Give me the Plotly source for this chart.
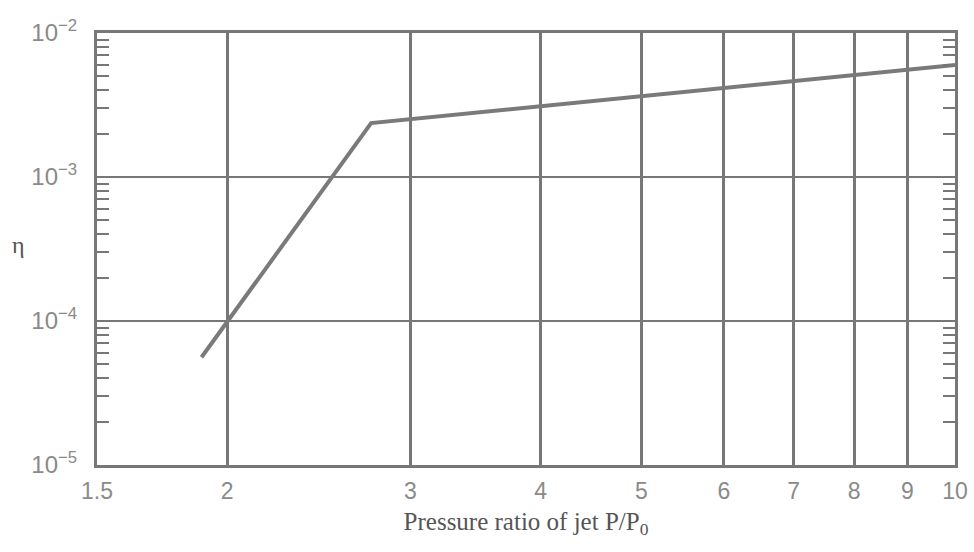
import plotly.graph_objects as go

# data
pressure_ratio = [1.89, 2.75, 10.0]
eta = [5.6e-5, 2.37e-3, 6.0e-3]

x_tick_vals = [1.5, 2, 3, 4, 5, 6, 7, 8, 9, 10]
x_tick_text = ["1.5", "2", "3", "4", "5", "6", "7", "8", "9", "10"]
y_exponents = [-5, -4, -3, -2]
y_tick_vals = [10.0 ** e for e in y_exponents]
y_tick_text = ["10<sup>−%d</sup>" % (-e) for e in y_exponents]
y_minor_vals = [m * 10.0 ** e for e in y_exponents[:-1] for m in range(2, 10)]

fig = go.Figure()
fig.add_trace(go.Scatter(x=pressure_ratio, y=eta, mode="lines",
                         line=dict(color="#7a7a7a", width=4), showlegend=False))

fig.update_layout(
    width=974, height=552,
    margin=dict(l=97, r=19, t=33, b=87),
    paper_bgcolor="white", plot_bgcolor="white",
    font=dict(family="Liberation Sans, Arial, sans-serif", color="#8a8a8a", size=17),
    annotations=[dict(text="η", xref="paper", yref="paper", x=-0.091, y=0.51,
                      xanchor="center", yanchor="middle", showarrow=False,
                      font=dict(family="Liberation Serif, Times New Roman, serif", size=24, color="#555555"))],
)
fig.update_xaxes(
    type="log", range=[0.176091, 1.0], automargin=False,
    tickvals=x_tick_vals, ticktext=x_tick_text,
    showgrid=True, gridcolor="#777777", gridwidth=3,
    showline=True, linecolor="#777777", linewidth=3, mirror=True,
    ticks="", ticklabelstandoff=3,
    tickfont=dict(size=23, color="#8a8a8a"),
    title=dict(text="Pressure ratio of jet P/P<sub>0</sub>",
               font=dict(family="Liberation Serif, Times New Roman, serif", size=25, color="#555555"),
               standoff=10),
    zeroline=False,
)
fig.update_yaxes(
    type="log", range=[-5, -2], automargin=False,
    tickvals=y_tick_vals, ticktext=y_tick_text,
    showgrid=True, gridcolor="#777777", gridwidth=2,
    showline=True, linecolor="#777777", linewidth=3, mirror="ticks",
    ticks="inside", ticklen=0, tickcolor="#777777",
    minor=dict(ticks="inside", ticklen=12, tickcolor="#777777", tickwidth=2,
               showgrid=False, tickvals=y_minor_vals),
    tickfont=dict(size=24, color="#8a8a8a"),
    ticklabelstandoff=12,
    zeroline=False,
)
fig.write_html("out.html")
